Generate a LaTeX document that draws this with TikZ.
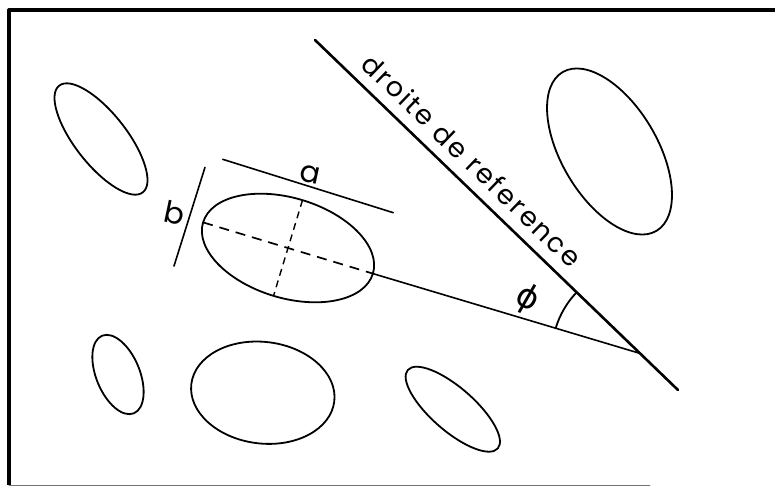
\documentclass[tikz,border=0pt]{standalone}
\usepackage{fontspec}
\setmainfont{Poppins}
\newfontfamily\reffont[LetterSpace=8]{Poppins}
\newfontfamily\symfont{DejaVu Sans}
\usetikzlibrary{angles}
\begin{document}
\begin{tikzpicture}[x=1pt,y=-1pt,line cap=round,line join=round,
  outline/.style={line width=1.8pt},
  refline/.style={line width=2.6pt},
  thinline/.style={line width=1.6pt},
  majordash/.style={line width=1.7pt,dash pattern=on 10pt off 7pt,line cap=butt},
  minordash/.style={line width=1.4pt,dash pattern=on 7pt off 5pt,line cap=butt},
  lbl/.style={inner sep=0pt,font=\fontsize{30}{36}\selectfont}]
\useasboundingbox (0,0) rectangle (775,488);
% frame
\draw[line width=3.2pt,line cap=butt] (775,10) -- (9,10) -- (9,485);
\draw[line width=0.8pt,black!55] (9,485) -- (650,485);
% ellipses
\draw[outline,rotate around={-51.9:(101,139)}] (101,139) ellipse [x radius=67.8, y radius=25.8];
\draw[outline,rotate around={-59.4:(609.5,151.5)}] (609.5,151.5) ellipse [x radius=92.2, y radius=47.9];
\draw[outline,rotate around={-67.8:(118,374.5)}] (118,374.5) ellipse [x radius=41.9, y radius=21.8];
\draw[outline,rotate around={-7:(262.8,392.7)}] (262.8,392.7) ellipse [x radius=72, y radius=50.8];
\draw[outline,rotate around={-41.1:(452.8,409.2)}] (452.8,409.2) ellipse [x radius=59.7, y radius=21.6];
% main ellipse
\coordinate (C) at (288,248);
\draw[outline,rotate around={-16.8:(C)}] (C) ellipse [x radius=88.7, y radius=50];
\coordinate (E1) at (203.1,222.4);
\coordinate (E2) at (372.9,273.6);
\coordinate (M1) at (302.5,200.1);
\coordinate (M2) at (273.5,295.9);
\draw[majordash] (E1) -- (E2);
\draw[minordash] (M1) -- (M2);
% a and b
\coordinate (A1) at (222.7,159.3);
\coordinate (A2) at (393.3,212.7);
\coordinate (B1) at (205,167.3);
\coordinate (B2) at (174,266);
\draw[thinline] (A1) -- (A2);
\draw[thinline] (B1) -- (B2);
\node[lbl,rotate=-12] (la) at (310,175) {a};
\node[lbl,rotate=-12] (lb) at (175,213) {b};
% reference line
\coordinate (R1) at (315,40);
\coordinate (R2) at (678,390);
\coordinate (V) at (640,353.4);
\draw[refline] (R1) -- (R2);
\draw[thinline] (E2) -- (V);
\pic[draw,line width=1.8pt,angle radius=88pt] {angle = R1--V--E2};
\node[lbl,font=\symfont\fontsize{33}{40}\selectfont,rotate=-30] (phi) at (527,299) {ϕ};
\node[lbl,font=\reffont\fontsize{27}{32}\selectfont,rotate=-43.96] (ref) at (472,160.5) {droite de reference};
\end{tikzpicture}
\end{document}
